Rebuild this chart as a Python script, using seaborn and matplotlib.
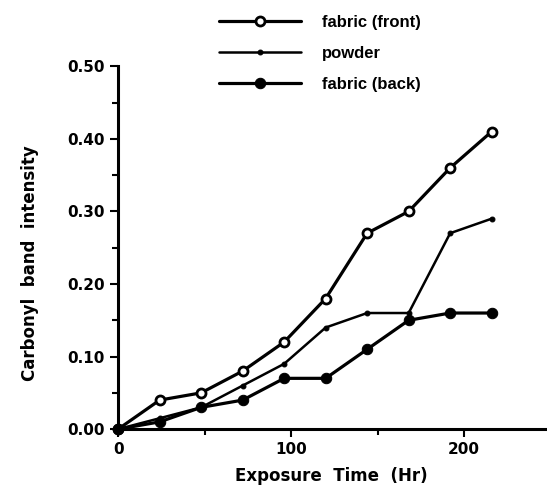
import matplotlib
matplotlib.use("Agg")
import matplotlib.pyplot as plt
import seaborn as sns
import pandas as pd
from matplotlib.ticker import MultipleLocator, FormatStrFormatter

sns.set_style("ticks")
plt.rcParams['font.family'] = ['Liberation Sans', 'DejaVu Sans']
plt.rcParams['font.weight'] = 'bold'
plt.rcParams['text.color'] = 'black'
plt.rcParams['axes.labelcolor'] = 'black'
plt.rcParams['xtick.color'] = 'black'
plt.rcParams['ytick.color'] = 'black'
plt.rcParams['axes.edgecolor'] = 'black'

hours = [0, 24, 48, 72, 96, 120, 144, 168, 192, 216]
fabric_front = [0.0, 0.04, 0.05, 0.08, 0.12, 0.18, 0.27, 0.30, 0.36, 0.41]
powder = [0.0, 0.015, 0.03, 0.06, 0.09, 0.14, 0.16, 0.16, 0.27, 0.29]
fabric_back = [0.0, 0.01, 0.03, 0.04, 0.07, 0.07, 0.11, 0.15, 0.16, 0.16]
labels = ["fabric (front)", "powder", "fabric (back)"]

fig = plt.figure(figsize=(5.47, 4.91), dpi=100)
ax = fig.add_axes([0.216, 0.126, 0.784, 0.739])

styles = [
    dict(marker="o", markersize=6.5, markerfacecolor="white", markeredgecolor="black",
         markeredgewidth=2, linewidth=2.3),
    dict(marker="o", markersize=3.5, markerfacecolor="black", markeredgecolor="black",
         linewidth=1.8),
    dict(marker="o", markersize=7.5, markerfacecolor="black", markeredgecolor="black",
         linewidth=2.3),
]
for lab, vals, st in zip(labels, [fabric_front, powder, fabric_back], styles):
    df = pd.DataFrame({"x": hours, "y": vals})
    sns.lineplot(data=df, x="x", y="y", ax=ax, color="black", label=lab, clip_on=False, **st)

ax.set_xlim(0, 248)
ax.set_ylim(0, 0.5)
ax.xaxis.set_major_locator(MultipleLocator(100))
ax.xaxis.set_minor_locator(MultipleLocator(50))
ax.yaxis.set_major_locator(MultipleLocator(0.1))
ax.yaxis.set_minor_locator(MultipleLocator(0.05))
ax.yaxis.set_major_formatter(FormatStrFormatter("%.2f"))
ax.tick_params(axis="both", which="major", length=6, width=1.5, labelsize=11, direction="out",
               color="black", labelcolor="black")
ax.tick_params(axis="both", which="minor", length=4, width=1.5, direction="out", color="black")
for lbl in ax.get_xticklabels() + ax.get_yticklabels():
    lbl.set_fontweight("bold")
    lbl.set_family("DejaVu Sans")

sns.despine(ax=ax)
ax.spines["left"].set_linewidth(2.2)
ax.spines["bottom"].set_linewidth(2.2)
ax.spines["left"].set_color("black")
ax.spines["bottom"].set_color("black")

ax.set_xlabel("Exposure  Time  (Hr)", fontsize=12, fontweight="bold", family="DejaVu Sans",
              color="black")
ax.set_ylabel("Carbonyl  band  intensity", fontsize=12, fontweight="bold", family="DejaVu Sans",
              color="black")
ax.xaxis.set_label_coords(0.497, -0.105)
ax.yaxis.set_label_coords(-0.185, 0.457)

leg = ax.legend(loc="upper left", bbox_to_anchor=(0.373, 1.0), bbox_transform=fig.transFigure,
                frameon=False, handlelength=4.9, handletextpad=1.3, labelspacing=0.95,
                prop={"weight": "bold", "size": 12})
for t in leg.get_texts():
    t.set_color("black")

fig.savefig("out.png", dpi=100)
